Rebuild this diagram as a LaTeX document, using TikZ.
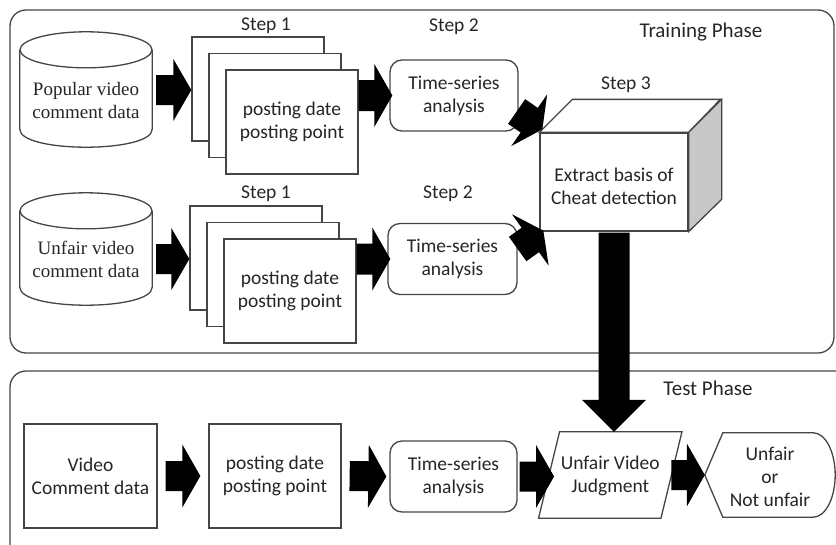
\documentclass[tikz,border=0pt]{standalone}
\usepackage{fontspec}
\setmainfont{Carlito}
\newfontfamily\tnrfont{Liberation Serif}
\usetikzlibrary{calc}
\definecolor{lc}{HTML}{454545}
\definecolor{sidegray}{HTML}{C8C8C8}
\newcommand\drawcyl[1]{%
  \draw[ln] ($(#1.north west)+(0,18)$) -- ($(#1.south west)+(0,-18)$)
     .. controls ($(#1.south west)+(0,6)$) and ($(#1.south east)+(0,6)$) .. ($(#1.south east)+(0,-18)$)
     -- ($(#1.north east)+(0,18)$);
  \draw[ln] ($(#1.north)+(0,18)$) ellipse [x radius=66, y radius=18];
}
% block arrow: #1 start, #2 end (tip), #3 shaft half width, #4 head half width, #5 head length (numbers, pt)
\newcommand\blockarrow[5]{%
  \fill[black] let \p1=#1, \p2=#2,
      \n1={atan2(\y2-\y1,\x2-\x1)}, \n2={veclen(\x2-\x1,\y2-\y1)} in
    [shift={(\p1)}, rotate=\n1]
    (0pt,{-#3*1pt}) -- ({(\n2-#5)*1pt},{-#3*1pt}) -- ({(\n2-#5)*1pt},{-#4*1pt})
    -- ({\n2*1pt},0pt) -- ({(\n2-#5)*1pt},{#4*1pt}) -- ({(\n2-#5)*1pt},{#3*1pt})
    -- (0pt,{#3*1pt}) -- cycle;
}
\begin{document}
\begin{tikzpicture}[x=1pt,y=-1pt,
  ln/.style={draw=lc, line width=1.3pt},
  txt/.style={font=\fontsize{19.5}{23}\selectfont, align=center, text=black!85, inner sep=0pt},
  phase/.style={font=\fontsize{21}{25}\selectfont, text=black!85, inner sep=0pt},
  cyltxt/.style={font=\tnrfont\fontsize{19}{23}\selectfont, align=center, text=black!85, inner sep=0pt},
  cylbox/.style={minimum width=132pt, inner sep=0pt},
  page/.style={ln, fill=white, minimum width=132pt, minimum height=104pt, inner sep=0pt, txt},
  tsbox/.style={ln, rounded corners=12pt, fill=white, minimum height=71pt, inner sep=0pt, txt},
  plainbox/.style={ln, fill=white, minimum width=133pt, minimum height=104pt, inner sep=0pt, txt},
]
\useasboundingbox (0,0) rectangle (836,544);
\clip (0,0) rectangle (836,544);

% phase frames
\draw[ln, rounded corners=16pt] (10,10) rectangle (834,353);
\draw[ln, rounded corners=16pt] (10,371) rectangle (860,580);
\node[phase] (trainlbl) at (701,32) {Training Phase};
\node[phase] (testlbl) at (708,388) {Test Phase};

% ---------- upper row ----------
\node[cylbox, minimum height=115pt] (cyl1) at (86,89.5) {};
\drawcyl{cyl1}
\node[cyltxt] (cyl1t) at ($(cyl1.center)+(0,11)$) {Popular video\\comment data};

\node[txt] (s1a) at (266,26) {Step 1};
\node[page] (p1a) at (258,89) {};
\node[page] (p1b) at (275,105.5) {};
\node[page] (p1c) at (292,122) {posting date\\posting point};

\node[txt] (s2a) at (454,27) {Step 2};
\node[tsbox, minimum width=128pt] (ts1) at (454,95.5) {Time-series\\analysis};

% ---------- lower row ----------
\node[cylbox, minimum height=112pt] (cyl2) at (86,249) {};
\drawcyl{cyl2}
\node[cyltxt] (cyl2t) at ($(cyl2.center)+(0,10)$) {Unfair video\\comment data};

\node[txt] (s1b) at (266,194) {Step 1};
\node[page] (p2a) at (256,258) {};
\node[page] (p2b) at (273,274.5) {};
\node[page] (p2c) at (290,291) {posting date\\posting point};

\node[txt] (s2b) at (448,194) {Step 2};
\node[tsbox, minimum width=129pt] (ts2) at (452.5,259) {Time-series\\analysis};

% ---------- step 3 cube ----------
\node[txt] (s3) at (626,85) {Step 3};
\node[ln, fill=white, minimum width=148pt, minimum height=98pt, inner sep=0pt] (cube) at (614,182) {};
\draw[ln, fill=white] (cube.north west) -- ++(33,-33) -- ++(148,0) -- (cube.north east) -- cycle;
\draw[ln, fill=sidegray] (cube.north east) -- ++(33,-33) -- ++(0,100) -- (cube.south east) -- cycle;
\node[txt] (cubet) at ($(cube.center)+(0,4)$) {Extract basis of\\Cheat detection};

% ---------- test row ----------
\node[plainbox] (vid) at (90.5,476) {Video\\Comment data};
\node[plainbox, minimum width=132pt] (pd) at (275,476) {posting date\\posting point};
\node[tsbox, minimum width=127pt] (ts3) at (453.5,476.5) {Time-series\\analysis};

\node[minimum width=122pt, minimum height=86pt, inner sep=0pt] (judg) at (610.25,475) {};
\draw[ln, fill=white] ($(judg.north west)+(10.5,0)$) -- ($(judg.north east)+(10.5,0)$)
   -- ($(judg.south east)+(-10.5,0)$) -- ($(judg.south west)+(-10.5,0)$) -- cycle;
\node[txt] (judgt) at ($(judg.center)+(0,1)$) {Unfair Video\\Judgment};

\node[minimum width=130pt, minimum height=84pt, inner sep=0pt] (fin) at (770,475) {};
\draw[ln, fill=white] (fin.west) -- ($(fin.north west)+(18,0)$) -- ($(fin.north east)+(-22,0)$)
   .. controls ($(fin.north east)+(-9.85,0)$) and ($(fin.east)+(0,-23.2)$) .. (fin.east)
   .. controls ($(fin.east)+(0,23.2)$) and ($(fin.south east)+(-9.85,0)$) .. ($(fin.south east)+(-22,0)$)
   -- ($(fin.south west)+(18,0)$) -- cycle;
\node[txt] (fint) at ($(fin.center)+(0,2)$) {Unfair\\or\\Not unfair};

% ---------- block arrows ----------
\blockarrow{($(cyl1.east |- 0,90)+(4,0)$)}{(p1a.west |- 0,90)}{15}{31}{18}
\blockarrow{(p1c.east |- ts1.west)}{($(ts1.west)+(3,0)$)}{15.5}{31.5}{18}
\blockarrow{($(cyl2.east |- ts2.west)+(4,0)$)}{(p2a.west |- ts2.west)}{15}{31}{18}
\blockarrow{(p2c.east |- ts2.west)}{($(ts2.west)+(3,0)$)}{15.5}{31.5}{18}

\blockarrow{($(ts1.east)+(-2,16)$)}{($(cube.north west)+(3,-3)$)}{15}{31.5}{16}
\blockarrow{($(ts2.east)+(0,-10)$)}{($(cube.south west)+(4,-1)$)}{15}{31.5}{16}

\blockarrow{($(cube.south)+(0,1)$)}{(cube.south |- judg.north)}{15.5}{32}{32}

\blockarrow{($(vid.east)+(8,0)$)}{($(pd.west)+(-8,0)$)}{15}{31.5}{18}
\blockarrow{($(pd.east)+(8,0)$)}{($(ts3.west)+(-3,0)$)}{15}{31.5}{18}
\blockarrow{($(ts3.east)+(2,0)$)}{($(judg.west |- ts3.east)+(5,0)$)}{15}{31.5}{18}
\blockarrow{(judg.east)}{(fin.west)}{15}{31.5}{18}
\end{tikzpicture}
\end{document}
